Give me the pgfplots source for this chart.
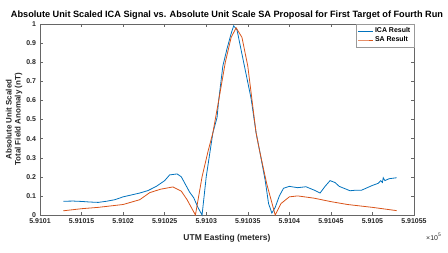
\documentclass[border=0pt]{standalone}
\usepackage{fontspec}
\setmainfont{Liberation Sans}
\usepackage{pgfplots}
\pgfplotsset{compat=1.18}
\definecolor{mblue}{rgb}{0,0.447,0.741}
\definecolor{morange}{rgb}{0.85,0.325,0.098}
\definecolor{axgray}{rgb}{0.15,0.15,0.15}
\begin{document}
\begin{tikzpicture}[x=1bp,y=1bp]
\path[use as bounding box] (0,0) rectangle (448,252);
\begin{axis}[
  at={(40bp,37bp)}, anchor=south west,
  scale only axis, width=374bp, height=191bp,
  xmin=591010, xmax=591055, ymin=0, ymax=1,
  xtick={591010,591015,591020,591025,591030,591035,591040,591045,591050,591055},
  xticklabels={5.9101,5.91015,5.9102,5.91025,5.9103,5.91035,5.9104,5.91045,5.9105,5.91055},
  ytick={0,0.1,0.2,0.3,0.4,0.5,0.6,0.7,0.8,0.9,1},
  yticklabels={0,0.1,0.2,0.3,0.4,0.5,0.6,0.7,0.8,0.9,1},
  scaled x ticks=false,
  tick align=inside, major tick length=3bp,
  axis line style={draw=black!60, line width=0.5pt},
  tick style={draw=black!60, line width=0.4pt},
  ticklabel style={font=\fontsize{7}{8}\selectfont\bfseries, text=axgray},
  /pgf/number format/assume math mode=true,
  xticklabel style={yshift=-0.5bp},
  yticklabel style={xshift=-0.5bp},
  legend style={at={(1,1)}, anchor=north east, font=\fontsize{7}{8}\selectfont\bfseries, draw=black!40, inner sep=1.5bp, row sep=-1.5bp, legend cell align=left},
  legend image post style={xscale=0.85},
  clip=false,
]
\addplot[mblue, line width=0.8pt] coordinates {
(591012.8,0.072) (591014,0.073) (591015,0.071) (591016,0.068) (591017,0.066) (591018,0.072)
(591019,0.080) (591020,0.095) (591021,0.105) (591022,0.115) (591023,0.128) (591024,0.150)
(591025,0.180) (591025.6,0.210) (591026.5,0.215) (591027,0.200) (591027.5,0.160) (591028,0.120)
(591028.5,0.090) (591029,0.040) (591029.5,0.000) (591030,0.200) (591030.8,0.430) (591031.3,0.510)
(591031.5,0.600) (591032,0.780) (591032.5,0.870) (591033,0.950) (591033.3,0.990) (591033.7,0.970)
(591034.5,0.800) (591035.4,0.610) (591036,0.430) (591036.5,0.320) (591037.1,0.180) (591037.5,0.060)
(591037.9,0.010) (591038.3,0.040) (591038.8,0.100) (591039.3,0.140) (591040,0.150) (591041,0.143)
(591042,0.148) (591043,0.130) (591043.7,0.115) (591044.3,0.150) (591044.9,0.180) (591045.5,0.170)
(591046,0.150) (591047.3,0.127) (591048,0.130) (591048.7,0.130) (591050,0.155) (591050.7,0.166)
(591051,0.180) (591051.2,0.170) (591051.3,0.195) (591051.5,0.180) (591052,0.190) (591052.9,0.195)
};
\addlegendentry{ICA Result}
\addplot[morange, line width=0.8pt] coordinates {
(591012.8,0.022) (591015,0.033) (591017,0.040) (591020,0.055) (591022,0.080) (591023.2,0.117)
(591024.5,0.135) (591026,0.147) (591027,0.125) (591027.7,0.080) (591028.7,0.000) (591029.5,0.200)
(591030.2,0.330) (591030.8,0.430) (591031.5,0.600) (591032.3,0.800) (591033,0.930) (591033.6,0.980)
(591034.3,0.930) (591035,0.780) (591036,0.430) (591036.5,0.320) (591037.3,0.160) (591038.3,0.000)
(591039,0.060) (591040,0.095) (591041,0.100) (591043,0.088) (591045,0.070) (591047,0.055)
(591050,0.040) (591052.9,0.023)
};
\addlegendentry{SA Result}
\node[font=\fontsize{9.2}{10}\selectfont\bfseries, anchor=base] at (rel axis cs:0.5,1) [yshift=6bp] {Absolute Unit Scaled ICA Signal vs. Absolute Unit Scale SA Proposal for First Target of Fourth Run};
\node[font=\fontsize{8.5}{9}\selectfont\bfseries, text=axgray, anchor=base] at (rel axis cs:0.5,0) [yshift=-25bp] {UTM Easting (meters)};
\node[font=\fontsize{7}{8}\selectfont, text=axgray, anchor=base west, inner sep=0pt] at (rel axis cs:1,0) [yshift=-25bp, xshift=12bp] {×10\textsuperscript{5}};
\node[font=\fontsize{8}{9}\selectfont\bfseries, text=axgray, rotate=90, align=center, anchor=center] at (rel axis cs:0,0.5) [yshift=26bp] {Absolute Unit Scaled\\Total Field Anomaly (nT)};
\end{axis}
\end{tikzpicture}
\end{document}
